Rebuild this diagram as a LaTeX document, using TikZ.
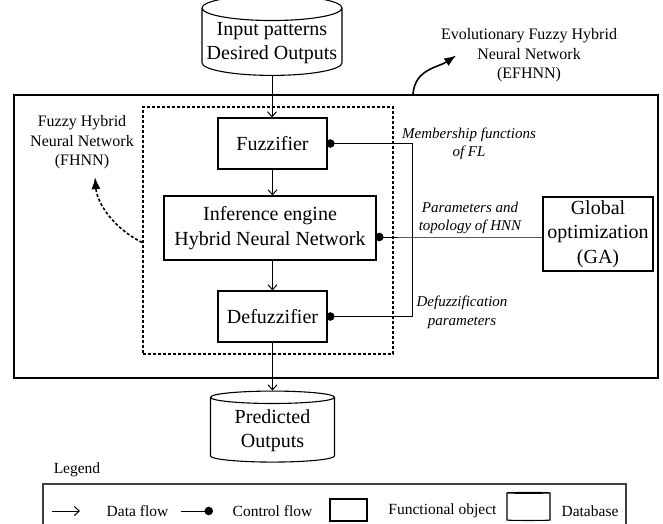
\documentclass[tikz,border=0pt]{standalone}
\usepackage{fontspec}
\setmainfont{Liberation Serif}
\usetikzlibrary{arrows.meta,positioning,calc,shapes.geometric}

\begin{document}
\begin{tikzpicture}[x=1pt, y=-1pt, line width=1pt, >={Straight Barb[length=5pt,width=9pt]},
  box/.style={draw, line width=1.1pt, align=center, inner sep=0pt, font=\fontsize{20}{24.5}\selectfont},
  dbase/.style={draw, line width=1.1pt, cylinder, shape border rotate=90, align=center, inner sep=1pt, font=\fontsize{20}{24.5}\selectfont},
  flow/.style={->},
  ctrl/.style={-{Circle[length=8.5pt]}, shorten >=-1.5pt},
  lbl/.style={align=center, font=\fontsize{15}{18.5}\selectfont\itshape},
  note/.style={align=center, font=\fontsize{16}{19.5}\selectfont},
  leg/.style={font=\fontsize{15.5}{18}\selectfont}]
\useasboundingbox (0,0) rectangle (663,523);
% frames
\node[draw, line width=2pt, minimum width=644, minimum height=283, inner sep=0pt] (efhnn) at (336,236.5) {};
\node[draw, line width=1.6pt, dash pattern=on 3pt off 2pt, minimum width=250, minimum height=247, inner sep=0pt] (fhnn) at (268,230.5) {};
% databases
\node[dbase, minimum width=140, minimum height=66, aspect=0.19] (indb) at (272,43) {Input patterns\\Desired Outputs};
\node[dbase, minimum width=124, minimum height=71, aspect=0.16] (outdb) at (272.5,430.5) {Predicted\\Outputs};
% blocks
\node[box, minimum width=109, minimum height=51] (fuzz) at (272.5,143.5) {Fuzzifier};
\node[box, minimum width=212, minimum height=64] (infer) at (270,228) {Inference engine\\Hybrid Neural Network};
\node[box, minimum width=109, minimum height=51] (defuzz) at (272.5,316.5) {Defuzzifier};
\node[box, minimum width=110, minimum height=74] (glob) at (598,234) {Global\\optimization\\(GA)};
% data flow
\draw[flow] (indb.south) -- (indb.south |- fuzz.north);
\draw[flow] (fuzz.south) -- (fuzz.south |- infer.north);
\draw[flow] (fuzz.south |- infer.south) -- (defuzz.north);
\draw[flow] (defuzz.south) -- (defuzz.south |- outdb.north);
% control flow
\coordinate (jn) at (412,237);
\draw[ctrl] (glob.west |- jn) -- (jn) -- (infer.east |- jn);
\draw[ctrl] (jn) |- (fuzz.east);
\draw[ctrl] (jn) |- (defuzz.east);
\node[lbl] (mflbl) at (469,144) {Membership functions\\of FL};
\node[lbl] (ptlbl) at (470,218) {Parameters and\\topology of HNN};
\node[lbl] (dflbl) at (462,312.5) {Defuzzification\\parameters};
% notes
\node[note] (efhnnlbl) at (529,55.5) {Evolutionary Fuzzy Hybrid\\Neural Network\\(EFHNN)};
\node[note] (fhnnlbl) at (82,142.5) {Fuzzy Hybrid\\Neural Network\\(FHNN)};
\draw[-{Latex[length=12pt,width=9pt]}, line width=1.6pt] ([xshift=77pt]efhnn.north) .. controls +(2,-25) and +(-18,12) .. ([xshift=19pt]efhnnlbl.west);
\draw[-{Latex[length=12pt,width=9pt]}, line width=1.6pt, dash pattern=on 3pt off 2pt] ([yshift=-12pt]fhnn.west) .. controls +(-30,-15) and +(2,25) .. ([xshift=13pt,yshift=-4pt]fhnnlbl.south);
% legend
\node[leg] (legtitle) at (77,470) {Legend};
\draw[line width=1.5pt, black!75] (43,530) |- (626,484) -- (626,530);
\coordinate (dfa) at (52,511); \coordinate (dfb) at (80,511);
\coordinate (cfa) at (181,511); \coordinate (cfb) at (213,511);
\draw[flow] (dfa) -- (dfb);
\node[leg] (dflow) at (137.5,511) {Data flow};
\draw[ctrl, shorten >=0pt] (cfa) -- (cfb);
\node[leg] (cflow) at (272.5,511) {Control flow};
\node[draw, line width=1.1pt, minimum width=37, minimum height=22, inner sep=0pt] (legbox) at (348.5,510) {};
\node[leg] (fobj) at (442.5,511) {Functional object};
\node[dbase, minimum width=43, minimum height=28, aspect=0.42] (legdb) at (528.5,507) {};
\node[leg] (dbtxt) at (590,511) {Database};
\end{tikzpicture}
\end{document}
